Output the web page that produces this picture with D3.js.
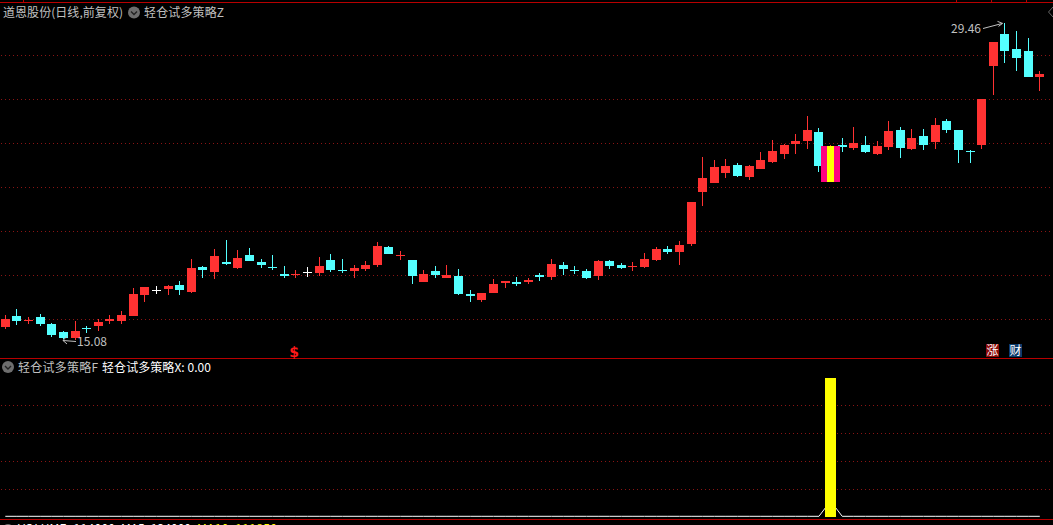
<!DOCTYPE html>
<html>
<head>
<meta charset="utf-8">
<script src="https://cdn.jsdelivr.net/npm/d3@7/dist/d3.min.js"></script>
<style>
html,body{margin:0;padding:0;background:#000;overflow:hidden}
svg{display:block}
text{font-family:"Noto Sans CJK SC","DejaVu Sans",sans-serif;font-size:12px}
</style>
</head>
<body>
<svg id="c" width="1053" height="525"></svg>
<script>
const opens=[15.66,16.16,15.93,16.11,15.80,15.43,15.16,15.61,15.70,15.93,15.93,16.16,17.11,17.35,17.39,17.57,17.25,18.39,18.16,18.61,18.34,18.93,18.61,18.39,18.07,18.02,18.15,18.11,18.70,18.25,18.20,18.30,18.48,19.30,18.90,18.70,17.70,18.20,17.89,17.98,17.16,16.89,17.20,17.66,17.70,17.70,18.02,17.93,18.48,18.25,18.20,17.98,18.66,18.48,18.40,18.39,18.70,19.20,19.07,19.43,21.80,22.20,22.66,23.02,22.48,22.84,23.16,23.52,23.98,24.11,24.52,22.25,23.93,23.80,23.93,23.52,23.84,24.61,23.75,24.34,24.07,25.02,24.61,23.67,23.93,27.52,28.98,28.30,28.20,27.02];
const closes=[16.02,15.93,15.96,15.80,15.30,15.16,15.48,15.57,15.89,16.02,16.20,17.16,17.48,17.35,17.52,17.34,18.34,18.25,18.89,18.52,18.80,18.66,18.48,18.34,17.98,18.07,18.15,18.43,18.25,18.20,18.34,18.48,19.34,18.98,18.93,17.98,18.07,18.02,18.02,17.16,17.07,17.20,17.61,17.73,17.61,17.80,17.93,18.52,18.30,18.20,17.89,18.66,18.43,18.34,18.43,18.75,19.20,19.07,19.39,21.34,22.43,22.93,22.98,22.52,22.98,23.25,23.66,23.93,24.11,24.61,22.98,23.89,23.84,24.02,23.61,23.89,24.57,23.80,24.25,23.93,24.84,24.61,23.70,23.61,26.02,28.61,28.20,27.89,27.02,27.16];
const highs=[16.20,16.48,16.11,16.25,15.84,15.48,15.93,15.70,16.02,16.20,16.39,17.43,17.48,17.52,17.57,17.75,18.75,18.43,19.20,19.61,19.16,19.25,18.75,18.93,18.43,18.25,18.39,18.84,18.98,18.75,18.48,18.66,19.52,19.34,19.11,18.70,18.25,18.43,18.48,18.30,17.34,17.20,17.84,17.75,17.93,17.89,18.11,18.75,18.61,18.43,18.30,18.70,18.70,18.57,18.61,19.02,19.30,19.34,19.57,21.34,23.39,23.25,23.30,23.11,23.02,23.61,24.16,23.98,24.43,25.25,24.70,23.93,24.25,24.75,24.34,24.11,25.02,24.75,24.66,24.66,25.16,25.11,24.61,23.70,26.02,28.61,29.46,29.11,28.80,27.30];
const lows=[15.58,15.75,15.80,15.70,15.20,15.11,15.08,15.39,15.48,15.80,15.80,16.16,16.80,17.16,17.11,17.11,17.20,17.89,17.84,18.48,18.30,18.66,18.34,18.25,17.89,17.89,17.93,17.98,18.16,18.11,17.89,18.20,18.39,18.98,18.70,17.61,17.70,17.89,17.89,17.11,16.80,16.80,17.20,17.43,17.52,17.61,17.75,17.80,18.02,18.07,17.84,17.80,18.30,18.30,18.20,18.34,18.66,18.98,18.48,19.34,21.16,22.20,22.43,22.48,22.34,22.84,23.11,23.30,23.52,23.75,22.70,22.25,23.61,23.70,23.57,23.48,23.70,23.34,23.70,23.70,23.75,24.48,23.11,23.11,23.75,26.20,27.66,27.30,27.02,26.39];

const priceTicks=[16,18,20,22,24,26,28];
const signalTicks=[0.2,0.4,0.6,0.8];
const signalIndex=[71];
const signalValues=[1];
const bandTop=[23.89];
const bandBottom=[22.25];
const lineValues=[0.005,0.005,0.005,0.005,0.005,0.005,0.005,0.005,0.005,0.005,
0.005,0.005,0.005,0.005,0.005,0.005,0.005,0.005,0.005,0.005,
0.005,0.005,0.005,0.005,0.005,0.005,0.005,0.005,0.005,0.005,
0.005,0.005,0.005,0.005,0.005,0.005,0.005,0.005,0.005,0.005,
0.005,0.005,0.005,0.005,0.005,0.005,0.005,0.005,0.005,0.005,
0.005,0.005,0.005,0.005,0.005,0.005,0.005,0.005,0.005,0.005,
0.005,0.005,0.005,0.005,0.005,0.005,0.005,0.005,0.005,0.005,
0.005,0.115,0.005,0.005,0.005,0.005,0.005,0.005,0.005,0.005,
0.005,0.005,0.005,0.005,0.005,0.005,0.005,0.005,0.005,0.005];

const titleMain="道恩股份(日线,前复权)";
const titleStrategy="轻仓试多策略Z";
const subName="轻仓试多策略F";
const subValue="轻仓试多策略X: 0.00";
const volLabel="VOLUME: 114000";
const ma5Label="MA5: 124000";
const ma10Label="MA10: 111850";

const RED="#ff3232",CYAN="#54ffff",WHITE="#ffffff",MAGENTA="#ff0080",YELLOW="#ffff00";
const GRID="#8a1414",SEP="#b80000",TXT="#c0c0c0";

const svg=d3.select("#c");
svg.append("rect").attr("width",1053).attr("height",525).attr("fill","#000");

const xRaw=d3.scaleLinear().domain([0,89]).range([5.3,1039.8]);
const x=i=>Math.floor(xRaw(i))+0.5;
const y=d3.scaleLinear().domain([16,28]).range([319.5,55.5]);
const ySub=d3.scaleLinear().domain([0,1]).range([517,378]);

// grid
const grid=svg.append("g").attr("shape-rendering","crispEdges").attr("stroke",GRID).attr("stroke-dasharray","1 3");
grid.selectAll(".p").data(priceTicks).join("line").attr("x1",1).attr("x2",1053)
  .attr("y1",d=>Math.floor(y(d))+0.5).attr("y2",d=>Math.floor(y(d))+0.5);
grid.selectAll(".s").data(signalTicks).join("line").attr("x1",1).attr("x2",1053)
  .attr("y1",d=>Math.floor(ySub(d))+0.5).attr("y2",d=>Math.floor(ySub(d))+0.5);

// separators
const sep=svg.append("g").attr("shape-rendering","crispEdges").attr("stroke",SEP);
[2,358,519].forEach(v=>sep.append("line").attr("x1",0).attr("x2",1053).attr("y1",v+0.5).attr("y2",v+0.5));
[23,956,991,1026].forEach(v=>sep.append("line").attr("x1",v+0.5).attr("x2",v+0.5).attr("y1",0).attr("y2",2));

// candles
const color=i=>closes[i]>opens[i]?RED:closes[i]<opens[i]?CYAN:WHITE;
const cg=svg.append("g").attr("shape-rendering","crispEdges");
const idx=d3.range(opens.length);
cg.selectAll("line").data(idx).join("line")
  .attr("x1",x).attr("x2",x)
  .attr("y1",i=>Math.round(y(highs[i]))).attr("y2",i=>Math.round(y(lows[i])))
  .attr("stroke",color);
cg.selectAll("rect").data(idx).join("rect")
  .attr("x",i=>x(i)-4.5).attr("width",9)
  .attr("y",i=>Math.round(y(Math.max(opens[i],closes[i]))))
  .attr("height",i=>Math.max(1,Math.round(y(Math.min(opens[i],closes[i])))-Math.round(y(Math.max(opens[i],closes[i])))))
  .attr("fill",color);

// strategy band on the main panel
const bg=svg.append("g").attr("shape-rendering","crispEdges");
signalIndex.forEach((k,n)=>{
  const t=Math.round(y(bandTop[n])),b=Math.round(y(bandBottom[n])),c=x(k);
  bg.append("rect").attr("x",c-9.5).attr("width",19).attr("y",t).attr("height",b-t).attr("fill",MAGENTA);
  bg.append("rect").attr("x",c-3.5).attr("width",7).attr("y",t).attr("height",b-t).attr("fill",YELLOW);
});

// sub panel line and bar
svg.append("path").attr("d",d3.line().x((d,i)=>xRaw(i)).y(d=>ySub(d))(lineValues))
  .attr("fill","none").attr("stroke","#fff").attr("stroke-width",1);
svg.append("g").attr("shape-rendering","crispEdges").selectAll("rect").data(signalIndex).join("rect")
  .attr("x",k=>x(k)-5.5).attr("width",11)
  .attr("y",(k,n)=>ySub(signalValues[n])).attr("height",(k,n)=>ySub(0)-ySub(signalValues[n]))
  .attr("fill",YELLOW);

// texts
function label(t,px,py,fill,len){
  const e=svg.append("text").attr("x",px).attr("y",py).attr("fill",fill).text(t);
  if(len)e.attr("textLength",len).attr("lengthAdjust","spacing");
  return e;
}
function icon(cx,cy){
  svg.append("circle").attr("cx",cx).attr("cy",cy).attr("r",6).attr("fill","#6e6e6e");
  svg.append("path").attr("d",`M${cx-3},${cy-1}L${cx},${cy+2}L${cx+3},${cy-1}`)
    .attr("fill","none").attr("stroke","#222").attr("stroke-width",1.4);
}
label(titleMain,3,17,TXT,120);
icon(134,12.5);
label(titleStrategy,144,17,TXT,80);
icon(8,367);
label(subName,18,372,TXT,80);
label(subValue,102,372,"#fff",109);
icon(8,530);
label(volLabel,18,533,"#fff",97);
label(ma5Label,121,533,"#fff",70);
label(ma10Label,197,533,YELLOW,80);

// high and low annotations
const ann=svg.append("g").attr("fill","none").attr("stroke",TXT);
const hiI=highs.indexOf(d3.max(highs)),loI=lows.indexOf(d3.min(lows));
label(d3.format(".2f")(highs[hiI]),951,33,TXT,30);
ann.append("path").attr("d",`M983,28.5L${x(hiI)-2},${y(highs[hiI])}M${x(hiI)-7},${y(highs[hiI])-2}L${x(hiI)-2},${y(highs[hiI])}L${x(hiI)-6},${y(highs[hiI])+3}`);
label(d3.format(".2f")(lows[loI]),77,346,TXT,30);
ann.append("path").attr("d",`M76,341.5L63,340.5M67,336L63,340.5L67,344`);

// markers
svg.append("text").attr("x",294).attr("y",357).attr("text-anchor","middle").attr("fill","#ff1a1a")
  .attr("font-weight","bold").style("font-family","'DejaVu Sans'").style("font-size","14px").text("$");
svg.append("rect").attr("x",986).attr("y",344).attr("width",13).attr("height",13).attr("fill","#8b0a0a");
svg.append("rect").attr("x",1009).attr("y",344).attr("width",13).attr("height",13).attr("fill","#0c3a6b");
svg.append("text").attr("x",992.5).attr("y",355).attr("text-anchor","middle").attr("fill","#fff").text("涨");
svg.append("text").attr("x",1015.5).attr("y",355).attr("text-anchor","middle").attr("fill","#fff").text("财");
svg.append("path").attr("d","M1053,7L1048.5,12L1053,17").attr("fill","none").attr("stroke","#666");
</script>
</body>
</html>
